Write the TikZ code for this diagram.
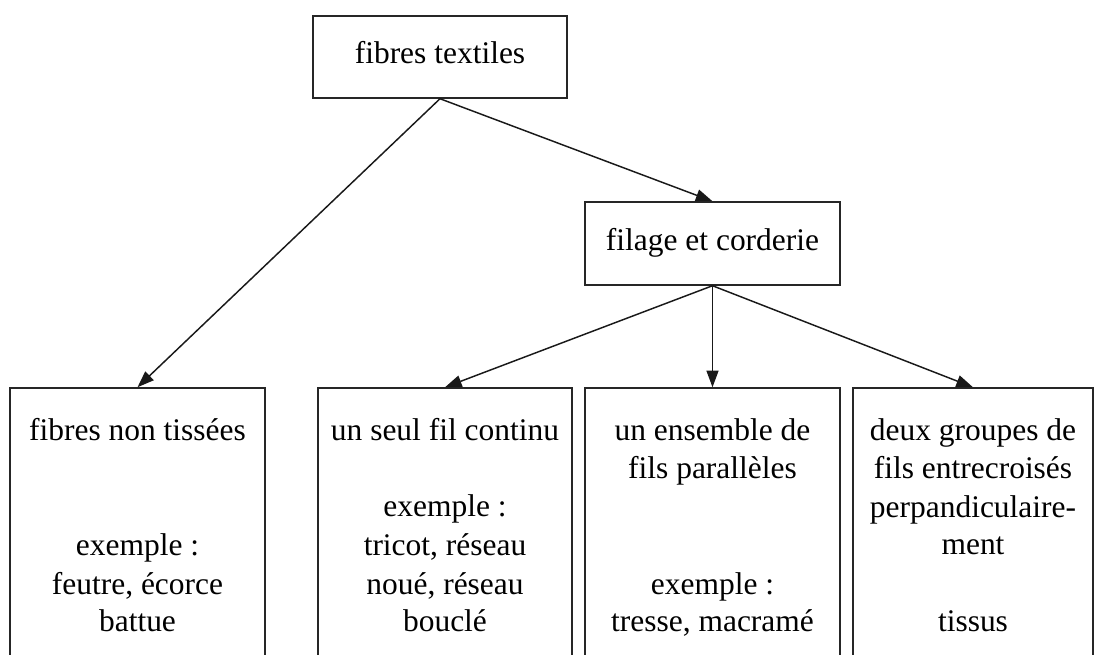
\documentclass[tikz,border=0pt]{standalone}
\usepackage{fontspec}
\setmainfont{Liberation Serif}
\usetikzlibrary{arrows.meta}
\begin{document}
\begin{tikzpicture}[x=0.75pt,y=-0.75pt,
  box/.style={draw=black!85, line width=1.1pt, rectangle, inner sep=0pt},
  txt/.style={anchor=base, inner sep=0pt, font=\fontsize{23.6}{27}\selectfont},
  arr/.style={draw=black!90, line width=1.1pt, -{Triangle[length=12.5pt,width=9pt]}}]
\useasboundingbox (0,0) rectangle (1097,655);
\clip (0,0) rectangle (1097,655);
% boxes
\node[box, minimum width=254*0.75pt, minimum height=82*0.75pt] (top) at (440,57) {};
\node[box, minimum width=255*0.75pt, minimum height=83*0.75pt] (fil) at (712.5,243.5) {};
\node[box, minimum width=255*0.75pt, minimum height=360*0.75pt] (b1) at (137.5,568) {};
\node[box, minimum width=254*0.75pt, minimum height=360*0.75pt] (b2) at (445,568) {};
\node[box, minimum width=255*0.75pt, minimum height=360*0.75pt] (b3) at (712.5,568) {};
\node[box, minimum width=240*0.75pt, minimum height=360*0.75pt] (b4) at (973,568) {};
% texts
\node[txt] (t0) at (440,64) {fibres textiles};
\node[txt] (t1) at (712.5,251) {filage et corderie};
\node[txt] (a1) at (137.5,441) {fibres non tissées};
\node[txt] (a2) at (137.5,556) {exemple :};
\node[txt] (a3) at (137.5,595) {feutre, écorce};
\node[txt] (a4) at (137.5,632) {battue};
\node[txt] (c1) at (445,441) {un seul fil continu};
\node[txt] (c2) at (445,517) {exemple :};
\node[txt] (c3) at (445,556) {tricot, réseau};
\node[txt] (c4) at (445,595) {noué, réseau};
\node[txt] (c5) at (445,632) {bouclé};
\node[txt] (d1) at (712.5,441) {un ensemble de};
\node[txt] (d2) at (712.5,479) {fils parallèles};
\node[txt] (d3) at (712.5,595) {exemple :};
\node[txt] (d4) at (712.5,632) {tresse, macramé};
\node[txt] (e1) at (973,441) {deux groupes de};
\node[txt] (e2) at (973,479) {fils entrecroisés};
\node[txt] (e3) at (973,518) {perpandiculaire-};
\node[txt] (e4) at (973,555) {ment};
\node[txt] (e5) at (973,632) {tissus};
% connectors
\draw[arr] (top.south) -- (b1.north);
\draw[arr] (top.south) -- (fil.north);
\draw[arr] (fil.south) -- (b2.north);
\draw[arr] (fil.south) -- (b3.north);
\draw[arr] (fil.south) -- (b4.north);
\end{tikzpicture}
\end{document}
